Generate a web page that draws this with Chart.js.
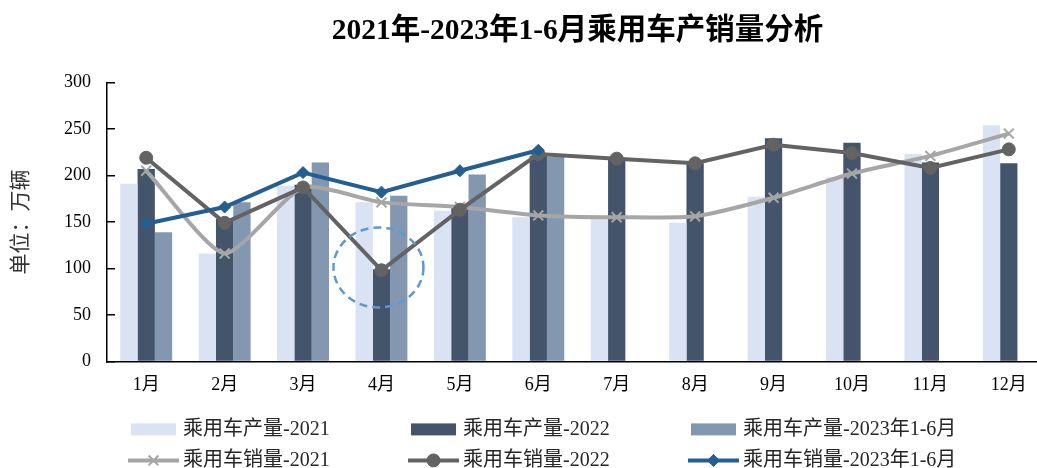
<!DOCTYPE html>
<html>
<head>
<meta charset="utf-8">
<script src="https://cdn.jsdelivr.net/npm/chart.js@4.4.1/dist/chart.umd.min.js"></script>
<style>
  html, body { margin: 0; padding: 0; overflow: hidden; background: #fff; }
  #wrap { width: 1060px; height: 468px; }
</style>
</head>
<body>
<div id="wrap"><canvas id="chart_carOutputSales"></canvas></div>
<script>
// values (万辆)
const months = ['1月', '2月', '3月', '4月', '5月', '6月', '7月', '8月', '9月', '10月', '11月', '12月'];
const prod2021 = [191, 116, 189, 171, 162, 155, 153, 149, 177, 198, 223, 254];
const prod2022 = [207, 153, 190, 99, 168, 221, 219, 213, 240, 235, 214, 213];
const prod2023 = [139, 171, 214, 178, 201, 220, null, null, null, null, null, null];
const sales2021 = [205, 116, 187, 171, 166, 157, 155, 156, 176, 202, 221, 245];
const sales2022 = [219, 149, 187, 98, 163, 223, 218, 213, 233, 224, 208, 228];
const sales2023 = [148, 166, 203, 182, 205, 227, null, null, null, null, null, null];
const highlightMonth = 3;   // 4月 dip
const highlightValue = 101;

const serif = '"Liberation Serif", "Noto Sans CJK SC", serif';

// legend in a fixed 3 x 2 grid, like the original
const legendGrid = {
    id: 'legendGrid',
    afterDraw: (chart) => {
        const ctx = chart.ctx;
        const left = chart.chartArea.left + 24;
        const base = chart.chartArea.bottom;
        ctx.save();
        chart.data.datasets.forEach((ds, i) => {
            const x = left + (i % 3) * 280;
            const y = base + (i < 3 ? 68 : 99);
            if (ds.type === 'line') {
                ctx.strokeStyle = ds.borderColor;
                ctx.lineWidth = 4;
                ctx.beginPath();
                ctx.moveTo(x - 3, y);
                ctx.lineTo(x + 48, y);
                ctx.stroke();
                ctx.fillStyle = ds.pointBackgroundColor;
                ctx.strokeStyle = ds.pointBorderColor;
                ctx.lineWidth = ds.pointBorderWidth;
                Chart.helpers.drawPoint(ctx, {
                    pointStyle: ds.pointStyle, radius: ds.pointRadius,
                    borderWidth: ds.pointBorderWidth, rotation: 0
                }, x + 22.5, y);
            } else {
                ctx.fillStyle = ds.backgroundColor;
                ctx.fillRect(x, y - 6, 45, 12);
            }
            ctx.fillStyle = '#262626';
            ctx.font = '20px ' + serif;
            ctx.textAlign = 'left';
            ctx.textBaseline = 'middle';
            ctx.fillText(ds.label, x + 52, y);
        });
        ctx.restore();
    }
};

// dashed ring round the April dip
const highlight = {
    id: 'highlight',
    afterDatasetsDraw: (chart) => {
        const ctx = chart.ctx;
        const x = chart.scales.x.getPixelForValue(highlightMonth) - 3;
        const y = chart.scales.y.getPixelForValue(highlightValue);
        ctx.save();
        ctx.strokeStyle = '#5b9bd5';
        ctx.lineWidth = 2.5;
        ctx.setLineDash([8, 5]);
        ctx.beginPath();
        ctx.ellipse(x, y, 45, 40, 0, 0, Math.PI * 2);
        ctx.stroke();
        ctx.restore();
    }
};

const chart_carOutputSales = new Chart(document.getElementById('chart_carOutputSales'), {
    type: 'bar',
    data: {
        labels: months,
        datasets: [
            { label: '乘用车产量-2021', data: prod2021, backgroundColor: '#dae3f3', order: 4 },
            { label: '乘用车产量-2022', data: prod2022, backgroundColor: '#44546a', order: 4 },
            { label: '乘用车产量-2023年1-6月', data: prod2023, backgroundColor: '#8497b0', order: 4 },
            {
                type: 'line', label: '乘用车销量-2021', data: sales2021,
                borderColor: '#a6a6a6', borderWidth: 4, tension: 0.2,
                pointStyle: 'crossRot', pointRadius: 7, pointBorderWidth: 2,
                pointBackgroundColor: '#a6a6a6', pointBorderColor: '#a6a6a6', order: 3
            },
            {
                type: 'line', label: '乘用车销量-2022', data: sales2022,
                borderColor: '#636363', borderWidth: 4,
                pointStyle: 'circle', pointRadius: 6.5, pointBorderWidth: 1,
                pointBackgroundColor: '#636363', pointBorderColor: '#636363', order: 2
            },
            {
                type: 'line', label: '乘用车销量-2023年1-6月', data: sales2023,
                borderColor: '#255e91', borderWidth: 4,
                pointStyle: 'rectRot', pointRadius: 6, pointBorderWidth: 1,
                pointBackgroundColor: '#255e91', pointBorderColor: '#255e91', order: 1
            }
        ]
    },
    options: {
        animation: false,
        responsive: true,
        maintainAspectRatio: false,
        datasets: {
            bar: { categoryPercentage: 0.662, barPercentage: 1 }
        },
        layout: {
            padding: { left: 0, right: 12, top: 0, bottom: 59 }
        },
        plugins: {
            legend: { display: false },
            tooltip: { enabled: false },
            title: {
                display: true,
                fullSize: false,
                text: '2021年-2023年1-6月乘用车产销量分析',
                color: '#000',
                font: { family: serif, size: 29.5, weight: 'bold' },
                padding: { top: 14, bottom: 33 }
            }
        },
        scales: {
            x: {
                grid: { display: false, drawTicks: false, tickLength: 0 },
                border: { display: true, color: '#000', width: 1.5 },
                ticks: { color: '#000', padding: 13, font: { family: serif, size: 18 } }
            },
            y: {
                min: 0,
                max: 300,
                afterFit: (scale) => { scale.width = 107; },
                grid: { drawOnChartArea: false, drawTicks: true, tickLength: -8, color: '#000', lineWidth: 1.5 },
                border: { display: true, color: '#000', width: 1.5 },
                ticks: { stepSize: 50, color: '#000', padding: 24, font: { family: serif, size: 18 } },
                title: {
                    display: true,
                    text: '单位：万辆',
                    color: '#333',
                    font: { family: serif, size: 21 },
                    padding: { top: 9, bottom: 0 }
                }
            }
        }
    },
    plugins: [highlight, legendGrid, {
        id: 'whiteBackground',
        beforeDraw: (chart) => {
            const ctx = chart.canvas.getContext('2d');
            ctx.save();
            ctx.globalCompositeOperation = 'destination-over';
            ctx.fillStyle = 'white';
            ctx.fillRect(0, 0, chart.canvas.width, chart.canvas.height);
            ctx.restore();
        }
    }]
});
</script>
</body>
</html>
